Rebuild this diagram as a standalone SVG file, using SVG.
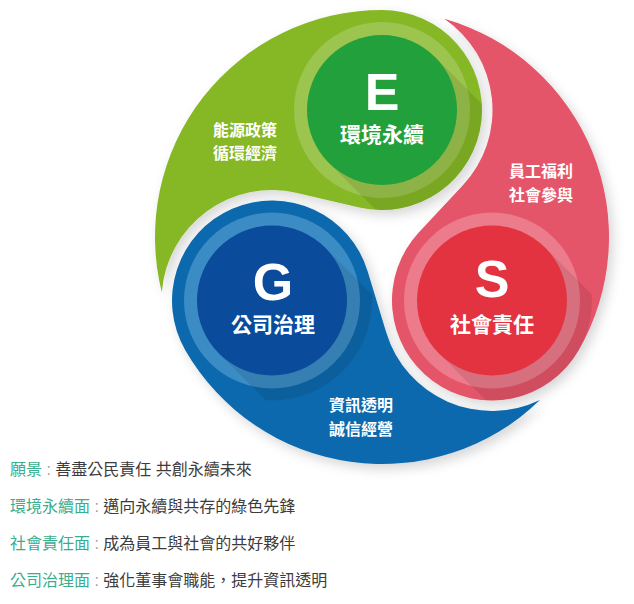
<svg xmlns="http://www.w3.org/2000/svg" xmlns:xlink="http://www.w3.org/1999/xlink" width="634" height="604" viewBox="0 0 634 604">
<style>
  .f{font-family:"Liberation Sans","Noto Sans CJK TC",sans-serif}
  .cjk{font-family:"Noto Sans CJK TC","Liberation Sans",sans-serif}
  .big{font-size:52px;font-weight:700;fill:#fff;text-anchor:middle}
  .name{font-size:21px;font-weight:700;fill:#fff;text-anchor:middle}
  .sub{font-size:16px;font-weight:700;fill:#fff;text-anchor:middle}
  .line{font-size:16px;fill:#3c3c3c}
  .lbl{fill:#38ad8f}
  .col{fill:#a0a0a0}
  .ls{fill:#000;opacity:0.09}
</style>
<defs>
  <path id="comma" d="M 382 10 A 227 227 0 0 0 161.82 292.23 A 110.5 110.5 0 0 1 297.10 192.88 L 359.30 207.39 A 100 100 0 1 0 382 10 Z"/>
  <filter id="ds" x="-15%" y="-15%" width="135%" height="135%">
    <feDropShadow dx="4" dy="5" stdDeviation="6" flood-color="#000" flood-opacity="0.16"/>
  </filter>
  <clipPath id="hc"><circle cx="0" cy="0" r="100"/></clipPath>
  <polygon id="lsh" points="53,-53 159,53 53,159 -53,53"/>
</defs>

<g id="regions" filter="url(#ds)">
  <use id="region-E" xlink:href="#comma" href="#comma" fill="#86b827"/>
  <use id="region-S" xlink:href="#comma" href="#comma" fill="#e5546a" transform="rotate(120 382 237)"/>
  <use id="region-G" xlink:href="#comma" href="#comma" fill="#0b69ad" transform="rotate(240 382 237)"/>
</g>

<g id="node-E" transform="translate(382 110)">
  <circle r="88" fill="#9cc54f"/>
  <g clip-path="url(#hc)"><use xlink:href="#lsh" href="#lsh" class="ls"/></g>
  <circle r="75" fill="#21a03b"/>
  <text class="f big" x="0" y="0">E</text>
  <text class="cjk name" x="0" y="31.5">環境永續</text>
</g>

<g id="node-S" transform="translate(492 300.5)">
  <circle r="88" fill="#ec7b8b"/>
  <g clip-path="url(#hc)"><use xlink:href="#lsh" href="#lsh" class="ls"/></g>
  <circle r="75" fill="#e43340"/>
  <text class="f big" x="0" y="-3.5">S</text>
  <text class="cjk name" x="0" y="31.5">社會責任</text>
</g>

<g id="node-G" transform="translate(272 300.5)">
  <circle r="88" fill="#3b8cc5"/>
  <g clip-path="url(#hc)"><use xlink:href="#lsh" href="#lsh" class="ls"/></g>
  <circle r="75" fill="#0a4b9b"/>
  <text class="f big" x="1" y="-0.5">G</text>
  <text class="cjk name" x="1" y="31">公司治理</text>
</g>

<g id="labels">
  <text class="cjk sub" x="245" y="136">能源政策</text>
  <text class="cjk sub" x="245" y="159">循環經濟</text>
  <text class="cjk sub" x="541" y="177">員工福利</text>
  <text class="cjk sub" x="541" y="201">社會參與</text>
  <text class="cjk sub" x="361" y="411">資訊透明</text>
  <text class="cjk sub" x="361" y="435">誠信經營</text>
</g>

<g id="legend" class="f line">
  <text x="10" y="475"><tspan class="lbl">願景</tspan><tspan class="col"> : </tspan>善盡公民責任 共創永續未來</text>
  <text x="10" y="512"><tspan class="lbl">環境永續面</tspan><tspan class="col"> : </tspan>邁向永續與共存的綠色先鋒</text>
  <text x="10" y="549"><tspan class="lbl">社會責任面</tspan><tspan class="col"> : </tspan>成為員工與社會的共好夥伴</text>
  <text x="10" y="586"><tspan class="lbl">公司治理面</tspan><tspan class="col"> : </tspan>強化董事會職能，提升資訊透明</text>
</g>
</svg>
